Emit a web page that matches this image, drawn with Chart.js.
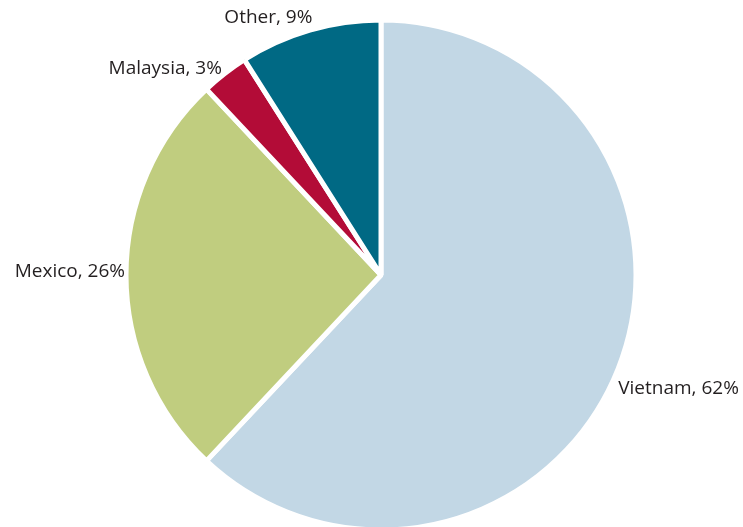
<!DOCTYPE html>
<html>
<head>
<meta charset="utf-8">
<script src="https://cdn.jsdelivr.net/npm/chart.js@4/dist/chart.umd.min.js"></script>
<style>
  html, body { margin: 0; padding: 0; background: #ffffff; }
  #wrap { width: 743px; height: 527px; overflow: hidden; position: relative; }
  canvas { display: block; }
</style>
</head>
<body>
<div id="wrap"><canvas id="c" width="743" height="540"></canvas></div>
<script>
const categories = ["Vietnam", "Mexico", "Malaysia", "Other"];
const shares = [62, 26, 3, 9];
const sliceColors = ["#c2d7e5", "#c0cd7f", "#b30c37", "#006984"];

// label nudges (layout only): dx, dy relative to the arc edge at mid-angle
const labelNudge = [[2, 20], [-3, -3], [-4, -6], [2, -14]];

const labelPlugin = {
  id: 'outerLabels',
  afterDatasetsDraw(chart) {
    const ctx = chart.ctx;
    const meta = chart.getDatasetMeta(0);
    ctx.save();
    ctx.font = '19px "Open Sans", "Lato", sans-serif';
    ctx.fillStyle = '#231f20';
    ctx.textBaseline = 'middle';
    meta.data.forEach((arc, i) => {
      const mid = (arc.startAngle + arc.endAngle) / 2;
      const r = arc.outerRadius - 2;
      const x = arc.x + Math.cos(mid) * r + labelNudge[i][0];
      const y = arc.y + Math.sin(mid) * r + labelNudge[i][1];
      ctx.textAlign = Math.cos(mid) >= 0 ? 'left' : 'right';
      ctx.fillText(categories[i] + ', ' + shares[i] + '%', x, y);
    });
    ctx.restore();
  }
};

new Chart(document.getElementById('c'), {
  type: 'pie',
  data: {
    labels: categories,
    datasets: [{
      data: shares,
      backgroundColor: sliceColors,
      borderColor: '#ffffff',
      borderWidth: 5,
      hoverOffset: 0
    }]
  },
  options: {
    responsive: false,
    animation: false,
    radius: 255,
    layout: { padding: { left: 128, right: 109, top: 22, bottom: 12 } },
    plugins: {
      legend: { display: false },
      tooltip: { enabled: false }
    }
  },
  plugins: [labelPlugin]
});
</script>
</body>
</html>
